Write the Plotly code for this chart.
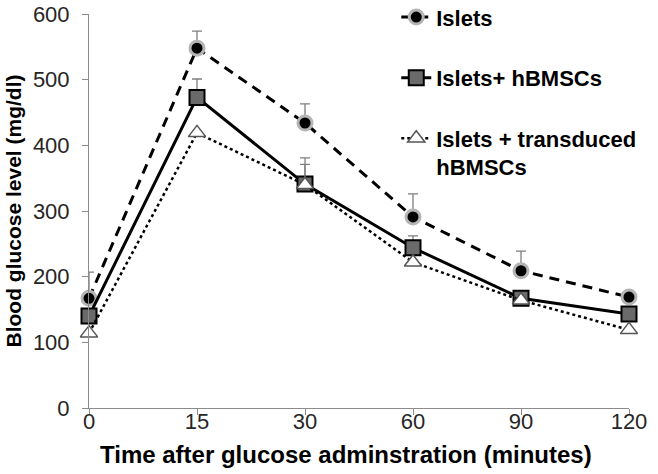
import plotly.graph_objects as go

time_labels = ["0", "15", "30", "60", "90", "120"]

islets = [167, 548, 434, 291, 209, 169]
islets_err = [40, 26, 29, 35, 30, 0]

hbmsc = [140, 473, 341, 244, 167, 143]
hbmsc_err = [0, 28, 40, 18, 0, 0]

transduced = [114, 419, 340, 222, 164, 119]
transduced_err = [0, 0, 31, 0, 0, 0]

series_names = ["Islets", "Islets+ hBMSCs", "Islets + transduced<br>hBMSCs"]
x_title = "Time after glucose adminstration (minutes)"
y_title = "Blood glucose level (mg/dl)"

xpos = list(range(len(time_labels)))
FONT = "Liberation Sans, Arial, sans-serif"

fig = go.Figure()

def err(arr):
    return dict(type="data", array=arr, arrayminus=[0] * len(arr), symmetric=False,
                color="#7f7f7f", thickness=1.3, width=5)

fig.add_trace(go.Scatter(
    x=xpos, y=islets, name=series_names[0], mode="lines+markers",
    line=dict(color="black", width=3, dash="10px,7px"),
    marker=dict(symbol="circle", size=14, color="black", line=dict(color="#b5b5b5", width=3)),
    error_y=err(islets_err), cliponaxis=False, legendgroup="a",
))
fig.add_trace(go.Scatter(
    x=xpos, y=hbmsc, name=series_names[1], mode="lines+markers",
    line=dict(color="black", width=3),
    marker=dict(symbol="square", size=15, color="#6a6a6a", line=dict(color="black", width=2)),
    error_y=err(hbmsc_err), cliponaxis=False, legendgroup="b",
))
fig.add_trace(go.Scatter(
    x=xpos, y=transduced, name=series_names[2], mode="lines+markers",
    line=dict(color="black", width=2.5, dash="dot"),
    marker=dict(symbol="triangle-up", size=15, color="white", line=dict(color="#555555", width=1.5)),
    error_y=err(transduced_err), cliponaxis=False, legendgroup="c",
))

fig.update_layout(
    width=658, height=474,
    margin=dict(l=89, r=29, t=14, b=66, autoexpand=False),
    paper_bgcolor="white", plot_bgcolor="white",
    font=dict(family=FONT, color="black"),
    showlegend=True,
    legend=dict(
        x=0.569, y=1.045, xanchor="left", yanchor="top",
        font=dict(family=FONT, size=22, color="black", weight="bold"),
        tracegroupgap=29, valign="top", bgcolor="rgba(0,0,0,0)",
    ),
    xaxis=dict(
        range=[0, 5], tickmode="array", tickvals=xpos, ticktext=time_labels,
        showline=True, linecolor="#8c8c8c", linewidth=1,
        ticks="outside", ticklen=6, tickcolor="#8c8c8c",
        showgrid=False, zeroline=False, ticklabelstandoff=-12,
        tickfont=dict(family=FONT, size=22, color="#262626"),
    ),
    yaxis=dict(
        range=[0, 600], tickvals=[0, 100, 200, 300, 400, 500, 600],
        showline=True, linecolor="#8c8c8c", linewidth=1,
        ticks="outside", ticklen=6, tickcolor="#8c8c8c",
        showgrid=False, zeroline=False, ticklabelstandoff=8,
        tickfont=dict(family=FONT, size=22, color="#262626"),
        title=dict(text=y_title,
                   font=dict(family=FONT, size=21, color="black", weight="bold"), standoff=5),
    ),
    annotations=[dict(
        text=x_title, xref="paper", yref="paper", x=0.476, y=-0.119,
        xanchor="center", yanchor="middle", showarrow=False,
        font=dict(family=FONT, size=24, color="black", weight="bold"),
    )],
)

fig.write_html("out.html", config={"displayModeBar": False},
               post_script="document.body.style.margin='0';")
